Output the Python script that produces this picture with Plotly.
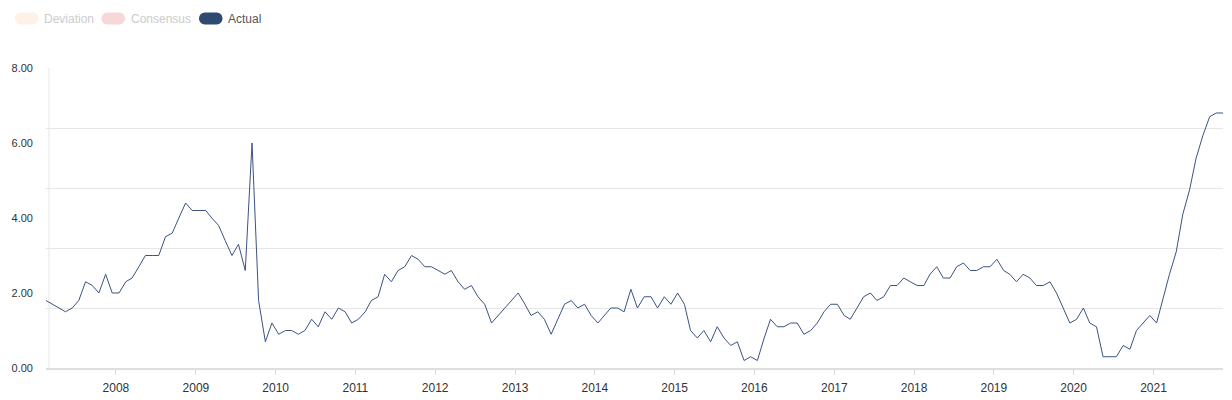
import plotly.graph_objects as go
import math

# ---- data ----
start_year, start_month = 2007, 2
actual = [
    1.8, 1.7, 1.6, 1.5, 1.6, 1.8, 2.3, 2.2, 2.0, 2.5, 2.0, 2.0,
    2.3, 2.4, 2.7, 3.0, 3.0, 3.0, 3.5, 3.6, 4.0, 4.4, 4.2, 4.2,
    4.2, 4.0, 3.8, 3.4, 3.0, 3.3, 2.6, 6.0, 1.8, 0.7, 1.2, 0.9,
    1.0, 1.0, 0.9, 1.0, 1.3, 1.1, 1.5, 1.3, 1.6, 1.5, 1.2, 1.3,
    1.5, 1.8, 1.9, 2.5, 2.3, 2.6, 2.7, 3.0, 2.9, 2.7, 2.7, 2.6,
    2.5, 2.6, 2.3, 2.1, 2.2, 1.9, 1.7, 1.2, 1.4, 1.6, 1.8, 2.0,
    1.7, 1.4, 1.5, 1.3, 0.9, 1.3, 1.7, 1.8, 1.6, 1.7, 1.4, 1.2,
    1.4, 1.6, 1.6, 1.5, 2.1, 1.6, 1.9, 1.9, 1.6, 1.9, 1.7, 2.0,
    1.7, 1.0, 0.8, 1.0, 0.7, 1.1, 0.8, 0.6, 0.7, 0.2, 0.3, 0.2,
    0.8, 1.3, 1.1, 1.1, 1.2, 1.2, 0.9, 1.0, 1.2, 1.5, 1.7, 1.7,
    1.4, 1.3, 1.6, 1.9, 2.0, 1.8, 1.9, 2.2, 2.2, 2.4, 2.3, 2.2,
    2.2, 2.5, 2.7, 2.4, 2.4, 2.7, 2.8, 2.6, 2.6, 2.7, 2.7, 2.9,
    2.6, 2.5, 2.3, 2.5, 2.4, 2.2, 2.2, 2.3, 2.0, 1.6, 1.2, 1.3,
    1.6, 1.2, 1.1, 0.3, 0.3, 0.3, 0.6, 0.5, 1.0, 1.2, 1.4, 1.2,
    1.9, 2.5, 3.1, 4.1, 4.75, 5.6, 6.2, 6.7, 6.8, 6.8,
]
dates = []
for k in range(len(actual)):
    m = start_month - 1 + k
    dates.append(f"{start_year + m // 12}-{m % 12 + 1:02d}-15")

year_ticks = list(range(2008, 2022))
y_label_vals = [0, 2, 4, 6, 8]
y_grid_vals = [0, 1.6, 3.2, 4.8, 6.4, 8]
legend_names = ["Deviation", "Consensus", "Actual"]
legend_colors = ["#fdf1e8", "#f6d8d8", "#2e4a72"]
legend_text_colors = ["#cccccc", "#cccccc", "#555555"]

# ---- layout geometry (page body has an 8px margin) ----
OFF = 8
W, H = 1232 - OFF, 400 - OFF
L, R, T, B = 46 - OFF, 9, 68 - OFF, 32
PW, PH = W - L - R, H - T - B


def px_x(x):
    return (x - OFF - L) / PW


def px_y(y):
    return (H - B - (y - OFF)) / PH


fig = go.Figure()
fig.add_trace(go.Scatter(
    x=dates, y=actual, mode="lines", name="Actual",
    line=dict(color="#3a5480", width=1), yaxis="y", showlegend=False,
    hovertemplate="%{x|%b %Y}: %{y:.2f}<extra></extra>",
))
# invisible companion trace so the label axis is rendered
fig.add_trace(go.Scatter(
    x=dates, y=actual, mode="lines", yaxis="y2", showlegend=False,
    line=dict(color="rgba(0,0,0,0)", width=0), hoverinfo="skip",
))

# pill legend drawn manually
shapes = []
annotations = []
pill_x = [15, 101.5, 199]
text_x = [42.0, 128.5, 226.0]
pw_, ph_ = 23.5, 12
cy = 18.5
for px0, tx, name, col, tcol in zip(pill_x, text_x, legend_names, legend_colors, legend_text_colors):
    r = ph_ / 2
    pts = []
    cxr = px0 + pw_ - r
    cxl = px0 + r
    for j in range(13):
        a = -math.pi / 2 + math.pi * j / 12
        pts.append((cxr + r * math.cos(a), cy + r * math.sin(a)))
    for j in range(13):
        a = math.pi / 2 + math.pi * j / 12
        pts.append((cxl + r * math.cos(a), cy + r * math.sin(a)))
    path = "M " + " L ".join(f"{px_x(a):.5f},{px_y(b):.5f}" for a, b in pts) + " Z"
    shapes.append(dict(type="path", xref="paper", yref="paper", path=path,
                       fillcolor=col, line=dict(width=0), layer="above"))
    annotations.append(dict(text=name, xref="paper", yref="paper",
                            x=px_x(tx), y=px_y(cy + 0.5), xanchor="left", yanchor="middle",
                            showarrow=False, font=dict(size=12, color=tcol,
                                                       family="Liberation Sans, Arial, sans-serif")))

# left vertical line
shapes.append(dict(type="line", xref="paper", yref="paper",
                   x0=px_x(49), x1=px_x(49), y0=0, y1=1,
                   line=dict(color="#e6e6e6", width=1), layer="below"))

fig.update_layout(
    width=W, height=H,
    margin=dict(l=L, r=R, t=T, b=B, autoexpand=False),
    paper_bgcolor="white", plot_bgcolor="white",
    font=dict(family="Liberation Sans, Arial, sans-serif", color="#333333"),
    shapes=shapes, annotations=annotations,
    xaxis=dict(
        type="date", range=[dates[0], dates[-1]],
        tickvals=[f"{y}-01-01" for y in year_ticks],
        ticktext=[str(y) for y in year_ticks],
        showgrid=False, zeroline=False, automargin=False,
        showline=True, linecolor="#dedede", linewidth=2,
        ticks="outside", ticklen=5, tickcolor="#d8d8d8", tickwidth=1,
        ticklabelstandoff=3,
        tickfont=dict(size=12, color="#333333"),
    ),
    yaxis=dict(
        range=[0, 8], tickvals=y_grid_vals, showticklabels=False, automargin=False,
        gridcolor="#e6e6e6", gridwidth=1, zeroline=False, fixedrange=True,
    ),
    yaxis2=dict(
        range=[0, 8], overlaying="y", side="left", automargin=False,
        tickvals=y_label_vals, ticktext=[f"{v:.2f}" for v in y_label_vals],
        showgrid=False, zeroline=False, ticks="", ticklabelstandoff=12,
        tickfont=dict(size=11, color="#333333"),
    ),
    hovermode="x",
)

fig.write_html("out.html")
